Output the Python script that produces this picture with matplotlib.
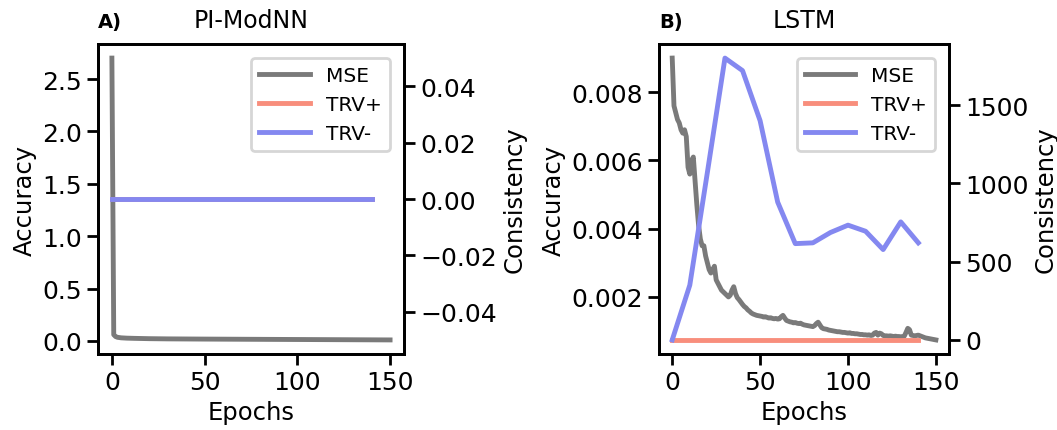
import numpy as np
import matplotlib
matplotlib.use("Agg")
import matplotlib.pyplot as plt

# 数据：从参考图读取
epochs = np.arange(0, 151)
trv_epochs = np.arange(0, 150, 10)

# A) PI-ModNN
pim_mse_epochs = [0, 1, 2, 3, 5, 8, 12, 20, 30, 50, 75, 100, 125, 150]
pim_mse = [2.70, 0.060, 0.042, 0.035, 0.030, 0.027, 0.025, 0.022, 0.020,
           0.018, 0.016, 0.014, 0.012, 0.010]
pim_trv_pos = [0] * 15
pim_trv_neg = [0] * 15

# B) LSTM
lstm_mse = [
    0.0090, 0.0076, 0.0074, 0.0072, 0.0071, 0.0069, 0.0068, 0.0069, 0.0067, 0.0058,
    0.0056, 0.0060, 0.0061, 0.0054, 0.0047, 0.0041, 0.0037, 0.0035, 0.0035, 0.0032,
    0.0030, 0.0028, 0.0027, 0.0028, 0.0029, 0.0025, 0.0024, 0.0023, 0.0022, 0.00215,
    0.0021, 0.00205, 0.0020, 0.00205, 0.0022, 0.0023, 0.0021, 0.00198, 0.00192, 0.00185,
    0.00178, 0.00172, 0.00168, 0.00162, 0.00158, 0.00153, 0.00150, 0.00148, 0.00146, 0.00145,
    0.00144, 0.00143, 0.00141, 0.00142, 0.00140, 0.00138, 0.00139, 0.00137, 0.00136, 0.00137,
    0.00135, 0.00136, 0.00142, 0.00146, 0.00138, 0.00131, 0.00129, 0.00127, 0.00126, 0.00124,
    0.00125, 0.00123, 0.00122, 0.00123, 0.00120, 0.00118, 0.00117, 0.00116, 0.00115, 0.00114,
    0.00113, 0.00116, 0.00122, 0.00126, 0.00118, 0.00110, 0.00107, 0.00106, 0.00105, 0.00103,
    0.00102, 0.00101, 0.00100, 0.00099, 0.00098, 0.00098, 0.00097, 0.00096, 0.00096, 0.00095,
    0.00094, 0.00095, 0.00093, 0.00093, 0.00092, 0.00092, 0.00091, 0.00090, 0.00090, 0.00089,
    0.00089, 0.00088, 0.00089, 0.00087, 0.00088, 0.00094, 0.00096, 0.00088, 0.00094, 0.00092,
    0.00087, 0.00086, 0.00086, 0.00085, 0.00086, 0.00085, 0.00084, 0.00085, 0.00084, 0.00084,
    0.00083, 0.00084, 0.00085, 0.00096, 0.00108, 0.00104, 0.00088, 0.00087, 0.00086, 0.00087,
    0.00088, 0.00086, 0.00084, 0.00082, 0.00080, 0.00079, 0.00078, 0.00077, 0.00076, 0.00075,
    0.00074,
]
lstm_trv_pos = [0] * 15
lstm_trv_neg = [0, 350, 1070, 1800, 1720, 1400, 880, 615, 620, 686,
                733, 694, 577, 754, 620]

# 样式
plt.rcParams.update({
    "font.family": "DejaVu Sans",
    "axes.linewidth": 2.0,
    "xtick.labelsize": 18,
    "ytick.labelsize": 18,
    "axes.labelsize": 17.5,
})

c_mse = "#7a7a7a"
c_pos = "#f88e7c"
c_neg = "#8488f0"
lw = 3.5

fig = plt.figure(figsize=(10.57, 4.31), dpi=100)
ax_a = fig.add_axes([0.0927, 0.1763, 0.2895, 0.7193])
ax_b = fig.add_axes([0.6235, 0.1763, 0.2744, 0.7193])


def panel(ax, tag, title, mse_x, mse_y, trv_pos, trv_neg):
    l1, = ax.plot(mse_x, mse_y, color=c_mse, lw=lw, label="MSE")
    ax.set_xlabel("Epochs")
    ax.set_ylabel("Accuracy")
    ax.set_xticks([0, 50, 100, 150])
    tw = ax.twinx()
    l2, = tw.plot(trv_epochs, trv_pos, color=c_pos, lw=lw, label="TRV+")
    l3, = tw.plot(trv_epochs, trv_neg, color=c_neg, lw=lw, label="TRV-")
    tw.set_ylabel("Consistency")
    for a in (ax, tw):
        a.tick_params(width=2.0, length=8)
    leg = tw.legend(handles=[l1, l2, l3], loc="upper right", fontsize=14.5,
                    handlelength=2.5, edgecolor="#cccccc", framealpha=0.8,
                    borderaxespad=0.7)
    leg.get_frame().set_linewidth(2.0)
    ax.set_title(title, fontsize=17, pad=12)
    ax.set_title(tag, loc="left", fontsize=14, fontweight="bold", pad=12)
    return tw


panel(ax_a, "A)", "PI-ModNN", pim_mse_epochs, pim_mse, pim_trv_pos, pim_trv_neg)
panel(ax_b, "B)", "LSTM", epochs, lstm_mse, lstm_trv_pos, lstm_trv_neg)

fig.savefig("out.png", dpi=100)
